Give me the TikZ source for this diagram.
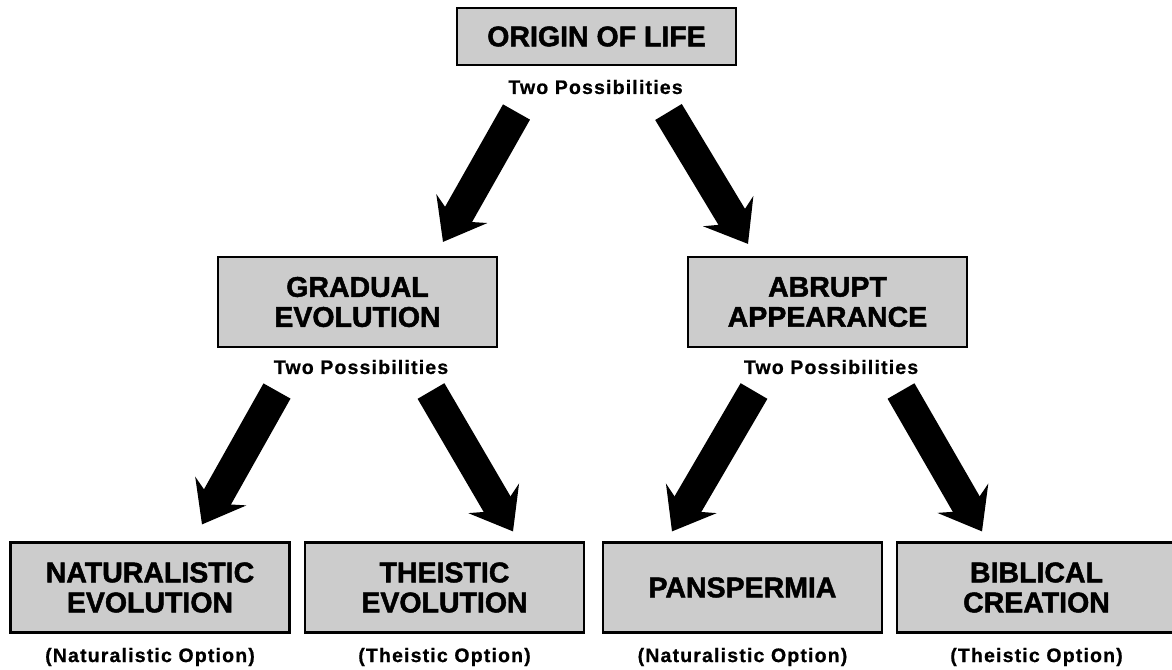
\documentclass[tikz,border=0pt]{standalone}
\usepackage{fontspec}
\setmainfont{Liberation Sans}
\usetikzlibrary{arrows.meta,calc}
\definecolor{olink}{HTML}{000000}
\definecolor{olgray}{HTML}{CCCCCC}
\tikzset{
  ol box/.style={draw=olink, line width=2.2pt, fill=olgray, align=center,
    minimum width=279pt, inner sep=0pt,
    font=\fontsize{28.5}{30}\selectfont\bfseries\addfontfeature{FakeBold=1.6}},
  ol note/.style={font=\fontsize{19.5}{22}\selectfont\bfseries\addfontfeature{LetterSpace=6,FakeBold=0.8},
    text=olink, inner sep=0pt},
  ol arrow/.style={-{Stealth[length=38pt,width=58pt,inset=14pt]}, line width=31pt,
    draw=olink, line cap=butt}
}
\begin{document}
\begin{tikzpicture}[x=1pt, y=-1pt]
  \useasboundingbox (0,0) rectangle (1172,669);
  % top level
  \node[ol box, minimum height=57pt] (origin) at (596.5,36.5) {ORIGIN OF LIFE};
  \node[ol note] (poss0) at (595.5,87) {Two Possibilities};
  % middle level
  \node[ol box, minimum height=90pt] (grad) at (357.5,302) {GRADUAL\\EVOLUTION};
  \node[ol box, minimum height=90pt] (abrupt) at (827.5,302) {ABRUPT\\APPEARANCE};
  \node[ol note] (poss1) at (361,367) {Two Possibilities};
  \node[ol note] (poss2) at (831,367) {Two Possibilities};
  % bottom level
  \node[ol box, minimum height=90pt] (natural) at (150,587.5) {NATURALISTIC\\EVOLUTION};
  \node[ol box, minimum height=90pt] (theistic) at (444.5,587.5) {THEISTIC\\EVOLUTION};
  \node[ol box, minimum height=90pt] (pansp) at (742.5,587.5) {PANSPERMIA};
  \node[ol box, minimum height=90pt] (biblical) at (1036.5,587.5) {BIBLICAL\\CREATION};
  \node[ol note] (opt1) at (150,657) {(Naturalistic Option)};
  \node[ol note] (opt2) at (444.5,657) {(Theistic Option)};
  \node[ol note] (opt3) at (742.5,657) {(Naturalistic Option)};
  \node[ol note] (opt4) at (1036.5,657) {(Theistic Option)};
  % arrows
  \draw[ol arrow] ($(poss0)+(-79,25)$) -- ($(grad.north)+(85.5,-14)$);
  \draw[ol arrow] ($(poss0)+(73,25)$) -- ($(abrupt.north)+(-79.5,-12)$);
  \draw[ol arrow] ($(poss1)+(-84,24)$) -- ($(natural.north)+(52,-17)$);
  \draw[ol arrow] ($(poss1)+(70,24)$) -- ($(theistic.north)+(68.5,-10)$);
  \draw[ol arrow] ($(poss2)+(-77,24)$) -- ($(pansp.north)+(-70.5,-10)$);
  \draw[ol arrow] ($(poss2)+(70,24)$) -- ($(biblical.north)+(-54.5,-10)$);
\end{tikzpicture}
\end{document}
